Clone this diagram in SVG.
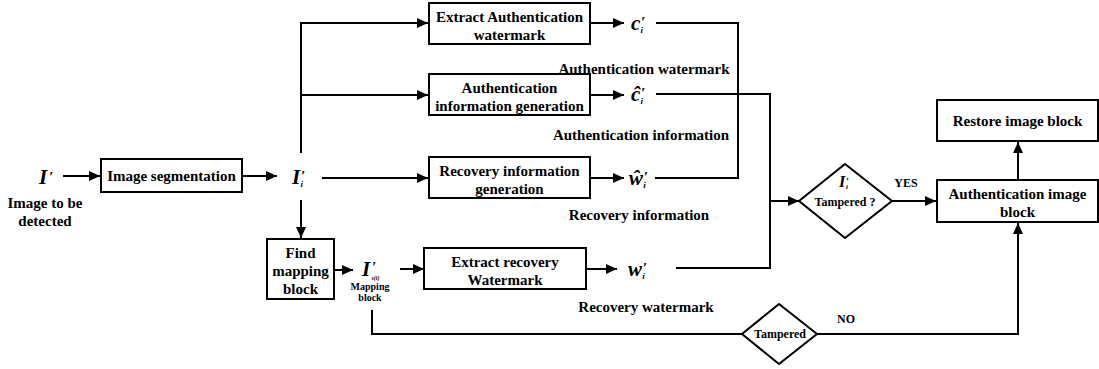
<svg xmlns="http://www.w3.org/2000/svg" width="1099" height="369" viewBox="0 0 1099 369">
  <style>
    .box { fill: #ffffff; stroke: #000000; stroke-width: 2; }
    .wire { fill: none; stroke: #000000; stroke-width: 2; }
    .t { font-family: "Liberation Serif", Tinos, "DejaVu Serif", "Times New Roman", Times, serif; font-weight: bold; font-size: 15px; fill: #000000; text-anchor: middle; }
    .s { font-size: 12px; }
    .xs { font-size: 10px; }
    .m { font-family: "Liberation Serif", Tinos, "DejaVu Serif", "Times New Roman", Times, serif; font-weight: bold; font-style: italic; font-size: 21px; fill: #000000; }
    .pr { font-size: 15px; font-style: normal; }
    .sub { font-size: 9px; }
  </style>
  <defs>
    <marker id="arrow" markerUnits="userSpaceOnUse" markerWidth="11" markerHeight="10" refX="11" refY="5" orient="auto">
      <path d="M0,0 L11,5 L0,10 Z" fill="#000000"/>
    </marker>
  </defs>

  <!-- input image -->
  <g id="input">
    <text class="m" x="39" y="184">I<tspan dx="2" dy="-2" class="pr">′</tspan></text>
    <text class="t" x="45" y="208">Image to be</text>
    <text class="t" x="45" y="226">detected</text>
  </g>

  <g id="segmentation">
    <rect class="box" x="101" y="159" width="141" height="33"/>
    <text class="t" x="171.5" y="181">Image segmentation</text>
  </g>

  <g id="block">
    <text class="m" x="292" y="184">I<tspan dx="1" dy="-3" class="pr">′</tspan><tspan dx="-5" dy="6" class="sub">i</tspan></text>
  </g>

  <g id="extract-auth">
    <rect class="box" x="429" y="3" width="161" height="41"/>
    <text class="t" x="509.5" y="22">Extract Authentication</text>
    <text class="t" x="509.5" y="40">watermark</text>
  </g>
  <g id="auth-watermark">
    <text class="m" x="631" y="30">c<tspan dx="1" dy="-3" class="pr">′</tspan><tspan dx="-5" dy="6" class="sub">i</tspan></text>
    <text class="t" x="644" y="74">Authentication watermark</text>
  </g>

  <g id="auth-info-gen">
    <rect class="box" x="429" y="74" width="161" height="41"/>
    <text class="t" x="509.5" y="93">Authentication</text>
    <text class="t" x="509.5" y="111">information generation</text>
  </g>
  <g id="auth-info">
    <text class="m" x="631" y="101">ĉ<tspan dx="1" dy="-3" class="pr">′</tspan><tspan dx="-5" dy="6" class="sub">i</tspan></text>
    <text class="t" x="641" y="140">Authentication information</text>
  </g>

  <g id="recovery-info-gen">
    <rect class="box" x="429" y="157" width="161" height="41"/>
    <text class="t" x="509.5" y="176">Recovery information</text>
    <text class="t" x="509.5" y="194">generation</text>
  </g>
  <g id="recovery-info">
    <text class="m" x="629" y="185">ŵ<tspan dx="1" dy="-3" class="pr">′</tspan><tspan dx="-5" dy="6" class="sub">i</tspan></text>
    <text class="t" x="639" y="220">Recovery information</text>
  </g>

  <g id="find-mapping">
    <rect class="box" x="267" y="239" width="67" height="60"/>
    <text class="t" x="300.5" y="258">Find</text>
    <text class="t" x="300.5" y="276">mapping</text>
    <text class="t" x="300.5" y="294">block</text>
  </g>
  <g id="mapping-block">
    <text class="m" x="362" y="276">I<tspan dx="2" dy="-4" class="pr">′</tspan><tspan dx="-5" dy="8" style="font-size:6px">s(i)</tspan></text>
    <text class="t xs" x="370" y="290">Mapping</text>
    <text class="t xs" x="370" y="301">block</text>
  </g>

  <g id="extract-recovery">
    <rect class="box" x="424" y="248" width="162" height="41"/>
    <text class="t" x="505" y="267">Extract recovery</text>
    <text class="t" x="505" y="285">Watermark</text>
  </g>
  <g id="recovery-watermark">
    <text class="m" x="628" y="276">w<tspan dx="1" dy="-3" class="pr">′</tspan><tspan dx="-5" dy="6" class="sub">i</tspan></text>
    <text class="t" x="646" y="312">Recovery watermark</text>
  </g>

  <g id="decision-tampered">
    <polygon class="box" points="845,164 892,201 845,238 799,201"/>
    <text class="m" x="839" y="187" style="font-size:16px">I<tspan dx="1" dy="-2" style="font-size:10px;font-style:normal">′</tspan><tspan dx="-3" dy="4" style="font-size:7px">i</tspan></text>
    <text class="t s" x="845" y="206">Tampered ?</text>
  </g>

  <g id="decision-no">
    <polygon class="box" points="779,304 817,334 779,364 742,334"/>
    <text class="t s" x="780" y="338">Tampered</text>
  </g>

  <g id="auth-image-block">
    <rect class="box" x="937" y="180" width="161" height="42"/>
    <text class="t" x="1017.5" y="199">Authentication image</text>
    <text class="t" x="1017.5" y="217">block</text>
  </g>

  <g id="restore-block">
    <rect class="box" x="937" y="100" width="161" height="41"/>
    <text class="t" x="1017.5" y="126">Restore image block</text>
  </g>

  <g id="connectors">
    <line class="wire" x1="63" y1="176" x2="100" y2="176" marker-end="url(#arrow)"/>
    <line class="wire" x1="242" y1="176" x2="277" y2="176" marker-end="url(#arrow)"/>
    <polyline class="wire" points="301,153 301,23 428,23" marker-end="url(#arrow)"/>
    <line class="wire" x1="301" y1="95" x2="428" y2="95" marker-end="url(#arrow)"/>
    <line class="wire" x1="322" y1="178" x2="428" y2="178" marker-end="url(#arrow)"/>
    <line class="wire" x1="301" y1="200" x2="301" y2="238" marker-end="url(#arrow)"/>
    <line class="wire" x1="590" y1="23" x2="624" y2="23" marker-end="url(#arrow)"/>
    <line class="wire" x1="590" y1="95" x2="624" y2="95" marker-end="url(#arrow)"/>
    <line class="wire" x1="590" y1="178" x2="624" y2="178" marker-end="url(#arrow)"/>
    <polyline class="wire" points="656,23 738,23 738,178 655,178"/>
    <polyline class="wire" points="656,94 770,94 770,268 676,268"/>
    <line class="wire" x1="770" y1="201" x2="799" y2="201" marker-end="url(#arrow)"/>
    <line class="wire" x1="334" y1="270" x2="353" y2="270" marker-end="url(#arrow)"/>
    <line class="wire" x1="400" y1="269" x2="424" y2="269" marker-end="url(#arrow)"/>
    <line class="wire" x1="586" y1="269" x2="617" y2="269" marker-end="url(#arrow)"/>
    <polyline class="wire" points="372,310 372,334 742,334"/>
    <polyline class="wire" points="817,334 1018,334 1018,223" marker-end="url(#arrow)"/>
    <line class="wire" x1="892" y1="201" x2="936" y2="201" marker-end="url(#arrow)"/>
    <line class="wire" x1="1018" y1="180" x2="1018" y2="142" marker-end="url(#arrow)"/>
    <text class="t s" x="906" y="187">YES</text>
    <text class="t s" x="846" y="323">NO</text>
  </g>
</svg>
